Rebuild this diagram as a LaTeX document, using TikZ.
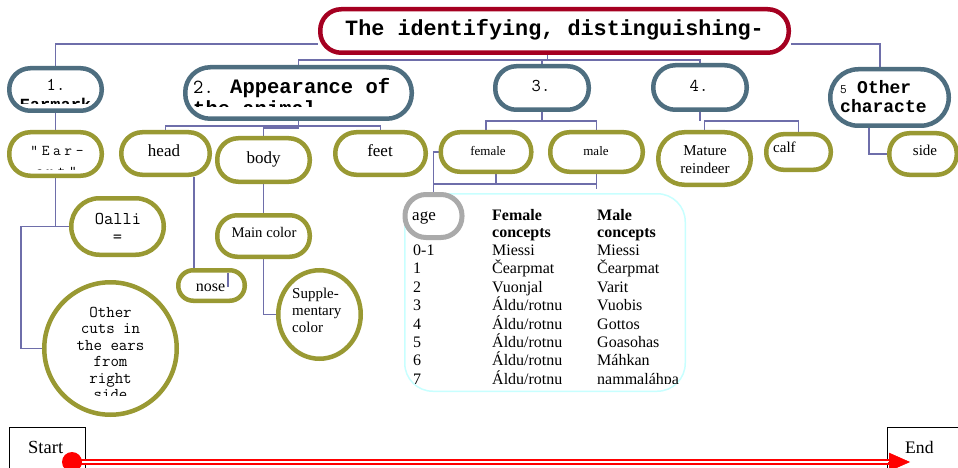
\documentclass[tikz,border=0pt]{standalone}
\usepackage{fontspec}
\setmainfont{Liberation Serif}
\newfontfamily\cour{Liberation Mono}
\usetikzlibrary{shapes.geometric,arrows.meta}
\pgfdeclarelayer{background}
\pgfsetlayers{background,main}
\definecolor{tred}{RGB}{165,0,33}
\definecolor{slate}{RGB}{78,110,128}
\definecolor{olive}{RGB}{153,153,51}
\definecolor{connc}{RGB}{110,110,170}
\definecolor{tcyan}{RGB}{200,255,255}
\definecolor{agegray}{RGB}{170,170,170}
\newcommand\aldu{Áldu/rotnu}
\newcommand\fsz[2]{\fontsize{#1pt}{#2pt}\selectfont}
\newcommand\lmt[1]{\ttfamily\fsz{#1}{#1}\addfontfeature{LetterSpace=7}}
\begin{document}
\begin{tikzpicture}[x=1pt,y=-1pt,
  conn/.style={draw=connc, line width=1.3pt},
  box/.style={fill=white, line width=4.5pt, inner sep=0pt},
  topbox/.style={box, draw=slate},
  leaf/.style={box, draw=olive},
  txt/.style={inner sep=0pt, anchor=base},
  txtw/.style={inner sep=0pt, anchor=base west},
  dbl/.style={draw=red, line width=1.8pt, double=white, double distance=1.8pt}]
\useasboundingbox (0,0) rectangle (958,468);

% ---------- title and level 1
\node[box, draw=tred, rounded corners=21pt, minimum width=468.5pt, minimum height=43.5pt] (title) at (554.5,31) {};
\node[txt, font=\cour\bfseries\fsz{21.8}{24}] (titlet) at (554.5,36) {The identifying, distinguishing-};

\node[topbox, rounded corners=21pt, minimum width=92.5pt, minimum height=42.5pt] (n1) at (55.5,89.5) {};
\node[txt, font=\lmt{18}] (n1a) at (56,91) {1.};
\begin{scope}
\clip (10,97) rectangle (101,104);
\node[txt, font=\cour\bfseries\fsz{17}{20}] (n1b) at (55.5,111) {Earmark};
\end{scope}

\node[topbox, rounded corners=25pt, minimum width=226.5pt, minimum height=51.5pt] (n2) at (298.5,93) {};
\node[txtw, font=\cour\fsz{20.5}{23}] (n2a) at (193,94) {\makebox[37pt][l]{\lmt{20}2.}\textbf{Appearance of}};
\begin{scope}
\clip (186,99) rectangle (411,107);
\node[txtw, font=\cour\bfseries\fsz{20.5}{23}] (n2b) at (193,116) {the animal};
\end{scope}

\node[topbox, rounded corners=21pt, minimum width=93.5pt, minimum height=43.5pt] (n3) at (542,88) {};
\node[txt, font=\lmt{18}] (n3a) at (541,92) {3.};

\node[topbox, rounded corners=22pt, minimum width=93.5pt, minimum height=44.5pt] (n4) at (700,87.5) {};
\node[txt, font=\lmt{18}] (n4a) at (699,92) {4.};

\node[topbox, rounded corners=28pt, minimum width=118.5pt, minimum height=56.5pt] (n5) at (889.5,97.5) {};
\node[txtw, font=\cour\fsz{18}{20}] (n5a) at (840,94) {\makebox[17pt][l]{\lmt{13}5}\textbf{Other}};
\node[txtw, font=\cour\bfseries\fsz{18}{20}] (n5b) at (840,113) {characte};

% ---------- level 2
\node[leaf, rounded corners=21pt, minimum width=92.5pt, minimum height=43.5pt] (ear) at (55.5,154) {};
\node[txt, font=\lmt{15}] (eara) at (57,156) {”\kern3.6pt E\kern3.6pt a\kern3.6pt r\kern3.6pt -};
\begin{scope}
\clip (10,160) rectangle (101,169.5);
\node[txt, font=\lmt{15}] (earb) at (56,176) {c\kern3.6pt u\kern3.6pt t\kern3.6pt ”};
\end{scope}

\node[leaf, rounded corners=21pt, minimum width=88.5pt, minimum height=42.5pt] (head) at (165.5,153.5) {};
\node[txt, font=\fsz{17}{20}] (headt) at (164,157) {head};
\node[leaf, rounded corners=21pt, minimum width=92.5pt, minimum height=43.5pt] (body) at (263.5,160) {};
\node[txt, font=\fsz{17}{20}] (bodyt) at (263.5,164) {body};
\node[leaf, rounded corners=21pt, minimum width=90.5pt, minimum height=42.5pt] (feet) at (380.5,153.5) {};
\node[txt, font=\fsz{17}{20}] (feett) at (380,157) {feet};

\node[leaf, rounded corners=19pt, minimum width=90.5pt, minimum height=39.5pt] (female) at (486,152) {};
\node[txt, font=\fsz{13}{15}] (femalet) at (488,155) {female};
\node[leaf, rounded corners=19pt, minimum width=92.5pt, minimum height=39.5pt] (male) at (596.5,152) {};
\node[txt, font=\fsz{13}{15}] (malet) at (596,155) {male};

\node[leaf, rounded corners=26pt, minimum width=92.5pt, minimum height=52.5pt] (mature) at (704.5,158.5) {};
\node[txt, font=\fsz{15}{17}] (maturea) at (705,155) {Mature};
\node[txt, font=\fsz{15}{17}] (matureb) at (705,173) {reindeer};
\node[leaf, rounded corners=17pt, minimum width=64.5pt, minimum height=35.5pt] (calf) at (798.5,152) {};
\node[txtw, font=\fsz{15}{17}] (calft) at (773,153) {calf};
\node[leaf, rounded corners=20pt, minimum width=67.5pt, minimum height=41.5pt] (side) at (923,154) {};
\node[txt, font=\fsz{15}{17}] (sidet) at (925,155) {side};

% ---------- level 3
\node[leaf, rounded corners=28pt, minimum width=92.5pt, minimum height=56.5pt] (oalli) at (117.5,226.5) {};
\node[txt, font=\lmt{18}] (oallia) at (118,224) {Oalli};
\node[txt, font=\lmt{18}] (oallib) at (117.5,242) {=};

\node[leaf, circle, minimum size=132.5pt] (cuts) at (110.5,348.5) {};
\begin{scope}
\clip (40,290) rectangle (180,395);
\foreach \s [count=\i] in {Other, cuts in, the ears, from, right, side}
  \node[txt, font=\lmt{16.5}] (cut\i) at (110.5,{317+16.5*(\i-1)}) {\s};
\end{scope}

\node[leaf, rounded corners=15pt, minimum width=66.5pt, minimum height=30.5pt] (nose) at (211.5,285.5) {};
\node[txt, font=\fsz{16}{18}] (noset) at (210.5,291) {nose};
\node[leaf, rounded corners=20pt, minimum width=92.5pt, minimum height=41.5pt] (main) at (263.5,236) {};
\node[txt, font=\fsz{14.7}{17}] (maint) at (264,237) {Main color};
\node[leaf, ellipse, minimum width=82.5pt, minimum height=88.5pt] (supp) at (319.5,314.5) {};
\node[txtw, font=\fsz{15}{17}] (suppa) at (292,298) {Supple-};
\node[txtw, font=\fsz{15}{17}] (suppb) at (292,315) {mentary};
\node[txtw, font=\fsz{15}{17}] (suppc) at (292,332) {color};

% ---------- age table
\node[fill=white, draw=tcyan, line width=1.5pt, rounded corners=28pt, minimum width=280.5pt, minimum height=197.5pt, inner sep=0pt] (tbl) at (545,292.5) {};
\node[fill=white, draw=agegray, line width=5pt, rounded corners=21pt, minimum width=57pt, minimum height=43pt, inner sep=0pt] (age) at (433.5,216) {};
\node[txtw, font=\fsz{17}{20}] (aget) at (412,220) {age};
\node[txtw, font=\bfseries\fsz{16}{18}] (hfa) at (492,220) {Female};
\node[txtw, font=\bfseries\fsz{16}{18}] (hfb) at (492,237.5) {concepts};
\node[txtw, font=\bfseries\fsz{16}{18}] (hma) at (597,220) {Male};
\node[txtw, font=\bfseries\fsz{16}{18}] (hmb) at (597,237.5) {concepts};
\begin{scope}
\clip (405,240) rectangle (686,383);
\foreach \a/\b/\c [count=\i] in {0-1/Miessi/Miessi, 1/Čearpmat/Čearpmat, 2/Vuonjal/Varit, 3/\aldu/Vuobis, 4/\aldu/Gottos, 5/\aldu/Goasohas, 6/\aldu/Máhkan, 7/\aldu/nammaláhpa}{
  \node[txtw, font=\fsz{16}{18}] (ra\i) at (413,{255.5+18.4*(\i-1)}) {\a};
  \node[txtw, font=\fsz{16}{18}] (rb\i) at (492,{255.5+18.4*(\i-1)}) {\b};
  \node[txtw, font=\fsz{16}{18}] (rc\i) at (597,{255.5+18.4*(\i-1)}) {\c};
}
\end{scope}

% ---------- start / end
\node[draw=black, line width=1.2pt, minimum width=75.8pt, minimum height=46.8pt, inner sep=0pt] (start) at (47.5,451) {};
\node[txtw, font=\fsz{18.5}{20}] (startt) at (28,453) {Start};
\node[draw=black, line width=1.2pt, minimum width=71.8pt, minimum height=46.8pt, inner sep=0pt] (end) at (923.5,451) {};
\node[txtw, font=\fsz{17.6}{20}] (endt) at (905,453) {End};
\coordinate (dotc) at (72,462);
\coordinate (tip) at (910,462);
\draw[dbl] (dotc) -- ([xshift=3pt]end.west |- dotc);
\draw[red, line width=0.4pt, -{Triangle[length=21pt,width=18.5pt]}] ([xshift=1pt]end.west |- dotc) -- (tip);
\node[circle, fill=red, minimum size=20pt, inner sep=0pt] (dot) at (dotc) {};

% small tick inside nose
\draw[conn] ([xshift=16.5pt,yshift=12.5pt]nose.center) -- ([xshift=16.5pt,yshift=-1.5pt]nose.center);

% ---------- connectors
\begin{pgfonlayer}{background}
\draw[conn] (n1.north) |- (title.west |- 0,44);
\draw[conn] ([xshift=-9.5pt]n5.north) |- (title.east |- 0,44);
\draw[conn] ([xshift=-7pt]title.south) -- ([xshift=-7pt]title.south |- 0,60);
\draw[conn] (n2.north) |- (n4.north |- 0,60) -- (n4.north);
\draw[conn] (n3.north) -- (n3.north |- 0,60);

\draw[conn] (n1.south) -- (ear.north);
\draw[conn] (n2.south) -- (n2.south |- 0,128);
\draw[conn] (head.north) |- (feet.north |- 0,126) -- (feet.north);
\draw[conn] (body.north) |- (n2.south |- 0,128);
\draw[conn] (n3.south) -- (n3.south |- 0,121);
\draw[conn] (female.north) |- (male.north |- 0,121) -- (male.north);
\draw[conn] (n4.south) -- (n4.south |- 0,121);
\draw[conn] (mature.north) |- (calf.north |- 0,121) -- (calf.north);
\draw[conn] ([xshift=-20.5pt]n5.south) |- (side.west);

\draw[conn] (ear.south) |- (oalli.west);
\draw[conn] (oalli.west) -- ++(-48,0) |- (cuts.west);
\draw[conn] ([xshift=28.5pt]head.south) -- ([xshift=28.5pt]head.south |- nose.north);
\draw[conn] (body.south) -- (main.north);
\draw[conn] (main.south) |- (supp.west);

\draw[conn] (female.west) -| (age.north);
\draw[conn] ([xshift=10pt]female.south) |- (age.north |- 0,184);
\draw[conn] (male.south) -- (male.south |- 0,189);
\draw[conn] (male.south |- 0,184) -- (age.north |- 0,184);
\end{pgfonlayer}
\end{tikzpicture}
\end{document}
